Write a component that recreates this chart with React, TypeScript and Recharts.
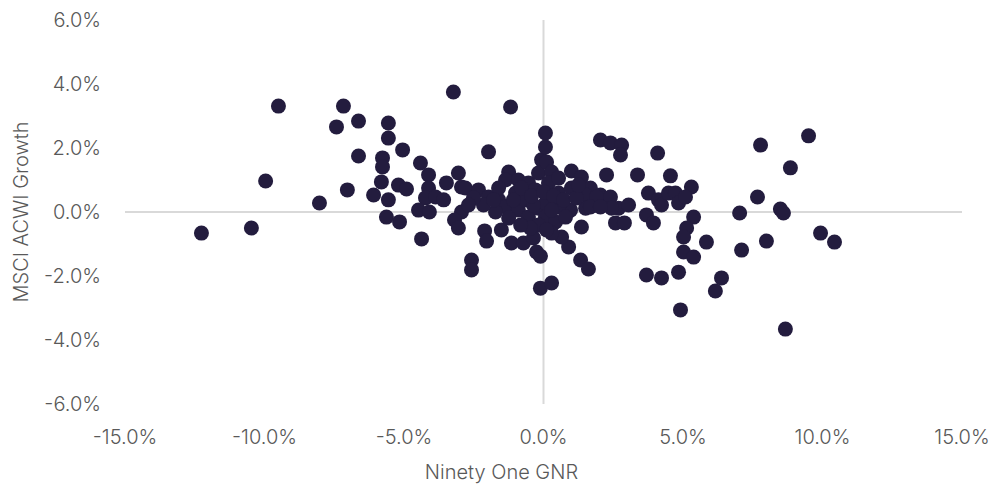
import React from 'react';
import {
    ScatterChart,
    Scatter,
    XAxis,
    YAxis,
    ReferenceLine,
    Label,
} from 'recharts';

// Ninety One GNR monthly returns (%), x axis
const gnr = [
    -12.26, -10.47, -9.96, -9.5, -8.03, -7.42, -7.17, -7.03, -6.63, -6.63,
    -6.09, -5.77, -5.77, -5.81, -5.56, -5.56, -5.05, -5.56, -5.2, -4.91,
    -5.63, -5.16, -4.41, -4.12, -4.12, -4.23, -4.48, -4.09, -4.37, -3.23,
    -1.18, -1.97, -3.87, -3.48, -3.05, -2.94, -2.8, -2.33, -3.58, -1.97,
    -1.61, -1.25, -1.36, -0.9, -0.54, -0.07, -0.18, -1.0, -0.65, -0.29,
    -1.36, -0.9, -0.54, -0.18, -2.94, -3.19, -3.05, -2.11, -2.04, -1.51,
    -1.15, -0.72, -0.36, -0.25, -0.11, -2.58, -2.58, -0.11, 0.29, 0.07,
    0.07, 0.11, 0.29, 1.0, 1.36, 1.68, 2.04, 2.4, 2.69, 2.44,
    2.58, 2.9, 1.36, 0.9, 1.33, 1.61, 2.04, 2.4, 2.8, 2.76,
    2.26, 3.37, 4.09, 4.55, 5.3, 3.76, 4.12, 4.23, 4.48, 4.73,
    4.84, 5.09, 3.69, 3.94, 5.38, 5.13, 5.02, 5.84, 5.02, 5.38,
    7.03, 3.69, 4.23, 4.84, 6.38, 6.16, 4.91, 7.1, 7.99, 8.49,
    8.6, 9.93, 10.43, 8.67, 7.78, 9.5, 8.85, 7.67, 0.18, 0.54,
    1.0, 1.51, 1.9, 1.51, 0.97, 0.54, 0.07, 0.07, 0.43, 0.79,
    0.65, 0.29, -0.65, -0.36, -1.08, -0.79, -0.43, 0.0, 0.36, 0.72,
    -0.18, 0.11, -0.47, -0.82, -1.25, -1.72, -2.15, -2.51, -2.69, 0.29,
    1.18, 1.25, 0.54, -1.61, -1.79, 1.68, 2.04, 3.05,
];

// MSCI ACWI Growth monthly returns (%), y axis
const acwiGrowth = [
    -0.66, -0.5, 0.97, 3.31, 0.28, 2.66, 3.31, 0.69, 2.84, 1.75,
    0.53, 1.69, 1.41, 0.94, 2.78, 2.31, 1.94, 0.38, 0.84, 0.72,
    -0.16, -0.31, 1.53, 1.16, 0.75, 0.44, 0.06, 0.0, -0.84, 3.75,
    3.28, 1.88, 0.47, 0.91, 1.22, 0.78, 0.75, 0.69, 0.38, 0.47,
    0.38, 1.25, 1.0, 1.0, 0.91, 1.63, 1.22, 0.59, 0.59, 0.69,
    0.16, 0.06, -0.16, 0.12, 0.0, -0.25, -0.5, -0.59, -0.91, -0.56,
    -0.97, -0.97, -0.81, -1.25, -1.38, -1.5, -1.81, -2.38, -2.22, 2.47,
    2.03, 1.56, 1.25, 1.28, 1.09, 0.75, 0.53, 0.47, 0.12, 0.12,
    -0.34, -0.34, -0.47, -1.09, -1.5, -1.78, 2.25, 2.16, 2.09, 1.78,
    1.16, 1.16, 1.84, 1.13, 0.78, 0.59, 0.38, 0.22, 0.59, 0.59,
    0.28, 0.47, -0.09, -0.34, -0.16, -0.5, -0.78, -0.94, -1.25, -1.41,
    -0.03, -1.97, -2.06, -1.88, -2.06, -2.47, -3.06, -1.19, -0.91, 0.09,
    -0.03, -0.66, -0.94, -3.66, 2.09, 2.38, 1.38, 0.47, 0.91, 0.59,
    0.75, 0.53, 0.47, 0.12, 0.06, 0.16, 0.28, -0.16, -0.31, -0.16,
    -0.78, -0.66, 0.38, 0.22, 0.38, 0.75, 0.5, 0.63, 0.5, 0.38,
    -0.41, -0.56, -0.5, -0.41, -0.19, 0.0, 0.22, 0.44, 0.22, 0.06,
    0.44, 0.84, 1.06, 0.75, 0.38, 0.16, 0.16, 0.22,
];

const xTicks = [-15, -10, -5, 0, 5, 10, 15];
const yTicks = [-6, -4, -2, 0, 2, 4, 6];

const data = gnr.map((x, i) => ({ x, y: acwiGrowth[i] }));

const DOT = '#231c3e';
const TEXT = '#595959';
const FONT = 'Inter, "Noto Sans", sans-serif';

const fmt = (v: number) => `${v.toFixed(1)}%`;

export default function App() {
    return (
        <div style={{ width: 994, height: 488 }}>
            <style>{'body{margin:0}'}</style>
            <ScatterChart
                width={994}
                height={488}
                margin={{ top: 20, right: 32, bottom: 24, left: 0 }}
            >
                <XAxis
                    type="number"
                    dataKey="x"
                    domain={[-15, 15]}
                    ticks={xTicks}
                    tickFormatter={fmt}
                    axisLine={false}
                    tickLine={false}
                    tickMargin={20}
                    height={60}
                    tick={{ fill: TEXT, fontSize: 20, fontFamily: FONT, fontWeight: 300 }}
                    interval={0}
                >
                    <Label
                        value="Ninety One GNR"
                        position="insideBottom"
                        dx={-42}
                        offset={-15}
                        style={{ fill: TEXT, fontSize: 20, fontFamily: FONT, fontWeight: 300 }}
                    />
                </XAxis>
                <YAxis
                    type="number"
                    dataKey="y"
                    domain={[-6, 6]}
                    ticks={yTicks}
                    tickFormatter={fmt}
                    axisLine={false}
                    tickLine={false}
                    tickMargin={18}
                    width={125}
                    tick={{ fill: TEXT, fontSize: 20, fontFamily: FONT, fontWeight: 300 }}
                    interval={0}
                >
                    <Label
                        value="MSCI ACWI Growth"
                        angle={-90}
                        position="insideLeft"
                        offset={21}
                        style={{ textAnchor: 'middle', fill: TEXT, fontSize: 20, fontFamily: FONT, fontWeight: 300 }}
                    />
                </YAxis>
                <ReferenceLine x={0} stroke="#d9d9d9" strokeWidth={2} />
                <ReferenceLine y={0} stroke="#d9d9d9" strokeWidth={2} />
                <Scatter
                    data={data}
                    isAnimationActive={false}
                    shape={(p: any) => <circle cx={p.cx} cy={p.cy} r={7.5} fill={DOT} />}
                />
            </ScatterChart>
        </div>
    );
}
